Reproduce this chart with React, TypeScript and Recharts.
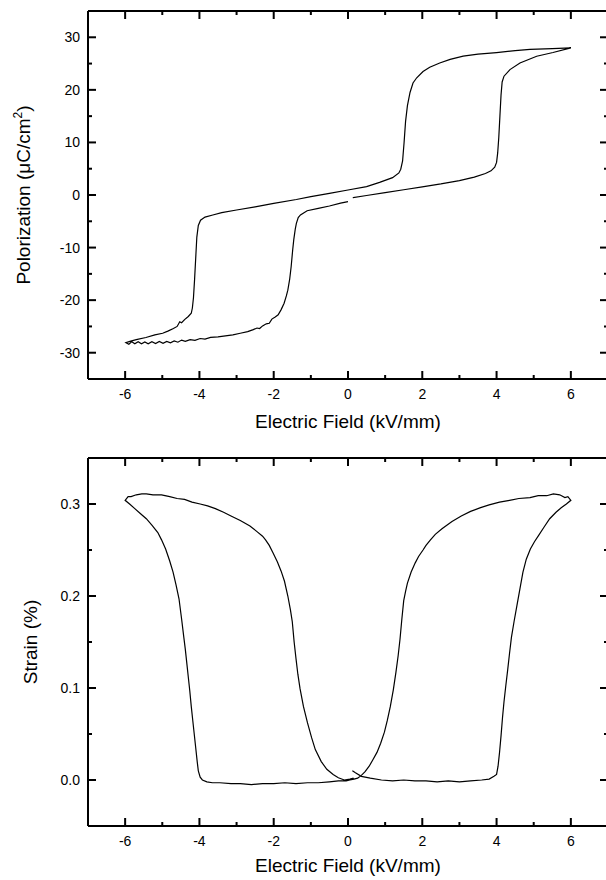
import { LineChart, Line, XAxis, YAxis, ReferenceLine } from 'recharts'

// axis ticks
const fieldTicks = [-6, -5, -4, -3, -2, -1, 0, 1, 2, 3, 4, 5, 6]
const polTicks = [-30, -25, -20, -15, -10, -5, 0, 5, 10, 15, 20, 25, 30]
const strainTicks = [0, 0.05, 0.1, 0.15, 0.2, 0.25, 0.3]

// P-E loop: [E (kV/mm), P (uC/cm2)]
const peRising: [number, number][] = [
  [0.05, -0.6], [0.5, -0.1], [1.0, 0.45], [1.5, 1.0], [2.0, 1.55], [2.5, 2.1], [3.0, 2.75],
  [3.4, 3.4], [3.7, 4.1], [3.85, 4.6], [3.95, 5.3], [4.0, 6.2], [4.03, 8.0], [4.06, 11.0],
  [4.09, 15.0], [4.12, 19.0], [4.15, 21.5], [4.2, 22.6], [4.36, 23.85], [4.63, 25.1],
  [5.08, 26.4], [5.52, 27.1], [6.0, 28.0],
]
const peFalling: [number, number][] = [
  [6.0, 28.0], [5.5, 27.85], [4.9, 27.7], [4.5, 27.45], [4.0, 27.1], [3.5, 26.8], [3.1, 26.4],
  [2.75, 25.8], [2.47, 25.1], [2.2, 24.3], [2.02, 23.5], [1.85, 22.3], [1.75, 21.3], [1.67, 19.5],
  [1.6, 17.0], [1.55, 14.0], [1.51, 10.0], [1.47, 6.5], [1.42, 4.9], [1.37, 4.2], [1.2, 3.3],
  [0.85, 2.4], [0.5, 1.6], [0.0, 0.95], [-0.5, 0.3], [-1.0, -0.3], [-1.39, -0.85], [-2.0, -1.6],
  [-2.5, -2.25], [-3.0, -2.85], [-3.4, -3.35], [-3.64, -3.8], [-3.85, -4.2], [-3.97, -4.8],
  [-4.03, -5.8], [-4.07, -8.0], [-4.1, -12.0], [-4.13, -16.0], [-4.16, -19.5], [-4.19, -21.5],
  [-4.22, -22.5], [-4.3, -23.1], [-4.4, -23.7], [-4.48, -24.3], [-4.53, -24.1], [-4.6, -25.0],
  [-4.7, -25.4], [-4.85, -25.9], [-4.99, -26.3], [-5.2, -26.6], [-5.44, -27.1], [-5.7, -27.5],
  [-5.85, -27.8], [-5.98, -28.1],
]
const peReturn: [number, number][] = [
  [-5.98, -28.1], [-5.9, -28.4], [-5.82, -27.9], [-5.74, -28.3], [-5.65, -27.9], [-5.56, -28.3],
  [-5.47, -27.95], [-5.38, -28.3], [-5.28, -27.9], [-5.18, -28.25], [-5.08, -27.85], [-4.98, -28.2],
  [-4.88, -27.85], [-4.78, -28.1], [-4.68, -27.75], [-4.58, -28.0], [-4.48, -27.6], [-4.38, -27.85],
  [-4.25, -27.5], [-4.12, -27.65], [-3.98, -27.3], [-3.85, -27.4], [-3.7, -27.1], [-3.5, -27.0],
  [-3.3, -26.8], [-3.1, -26.6], [-2.9, -26.3], [-2.7, -26.0], [-2.55, -25.6], [-2.45, -25.3],
  [-2.38, -25.4], [-2.3, -24.9], [-2.2, -24.5], [-2.12, -24.4], [-2.05, -23.6], [-1.96, -23.2],
  [-1.88, -22.8], [-1.8, -21.8], [-1.72, -20.6], [-1.66, -19.2], [-1.62, -18.1], [-1.57, -16.0],
  [-1.53, -13.6], [-1.49, -10.5], [-1.46, -8.5], [-1.42, -6.5], [-1.39, -5.4], [-1.34, -4.3],
  [-1.28, -3.8], [-1.1, -3.0], [-0.8, -2.55], [-0.5, -2.1], [-0.2, -1.55], [0.0, -1.25],
]

// strain loop: [E (kV/mm), strain (%)]
const stRising: [number, number][] = [
  [0.05, 0.012], [0.2, 0.008], [0.36, 0.004], [0.6, 0.002], [0.9, 0.0], [1.2, -0.001], [1.5, 0.0],
  [1.8, -0.001], [2.1, -0.001], [2.4, -0.002], [2.7, -0.001], [3.0, -0.002], [3.3, -0.001],
  [3.6, 0.0], [3.8, 0.001], [3.93, 0.004], [4.0, 0.006], [4.04, 0.015], [4.08, 0.03],
  [4.12, 0.048], [4.16, 0.068], [4.2, 0.085], [4.25, 0.103], [4.3, 0.12], [4.35, 0.138],
  [4.4, 0.155], [4.47, 0.172], [4.55, 0.19], [4.63, 0.208], [4.71, 0.226], [4.8, 0.24],
  [4.91, 0.251], [5.02, 0.259], [5.12, 0.265], [5.28, 0.275], [5.43, 0.284], [5.6, 0.291],
  [5.74, 0.296], [5.88, 0.3], [6.0, 0.304],
]
const stFalling: [number, number][] = [
  [6.0, 0.304], [5.92, 0.308], [5.84, 0.307], [5.7, 0.31], [5.53, 0.311], [5.35, 0.309],
  [5.12, 0.309], [4.9, 0.307], [4.6, 0.306], [4.35, 0.304], [4.08, 0.302], [3.8, 0.299],
  [3.57, 0.296], [3.3, 0.292], [3.05, 0.287], [2.8, 0.281], [2.53, 0.273], [2.35, 0.267],
  [2.22, 0.261], [2.1, 0.255], [2.02, 0.25], [1.9, 0.243], [1.81, 0.236], [1.7, 0.226],
  [1.6, 0.214], [1.55, 0.205], [1.5, 0.195], [1.45, 0.175], [1.4, 0.153], [1.35, 0.135],
  [1.29, 0.117], [1.22, 0.098], [1.14, 0.08], [1.06, 0.065], [0.98, 0.052], [0.88, 0.04],
  [0.78, 0.03], [0.67, 0.022], [0.57, 0.015], [0.46, 0.009], [0.36, 0.005], [0.26, 0.002],
  [0.16, 0.001], [0.05, 0.0], [-0.05, -0.001], [-0.26, -0.001], [-0.5, -0.002], [-0.8, -0.003],
  [-1.09, -0.003], [-1.4, -0.004], [-1.7, -0.003], [-2.0, -0.004], [-2.3, -0.004], [-2.6, -0.005],
  [-2.9, -0.004], [-3.15, -0.004], [-3.45, -0.003], [-3.65, -0.003], [-3.8, -0.002], [-3.92, 0.0],
  [-3.98, 0.003], [-4.03, 0.01], [-4.06, 0.02], [-4.1, 0.035], [-4.14, 0.05], [-4.18, 0.065],
  [-4.22, 0.08], [-4.26, 0.097], [-4.3, 0.112], [-4.34, 0.127], [-4.38, 0.142], [-4.42, 0.155],
  [-4.48, 0.175], [-4.55, 0.197], [-4.63, 0.212], [-4.71, 0.226], [-4.8, 0.238], [-4.91, 0.251],
  [-5.02, 0.261], [-5.12, 0.269], [-5.28, 0.277], [-5.43, 0.284], [-5.6, 0.29], [-5.74, 0.295],
  [-5.88, 0.3], [-6.0, 0.304],
]
const stReturn: [number, number][] = [
  [-6.0, 0.304], [-5.92, 0.308], [-5.84, 0.308], [-5.7, 0.31], [-5.55, 0.311], [-5.43, 0.311],
  [-5.25, 0.31], [-5.02, 0.31], [-4.8, 0.308], [-4.6, 0.306], [-4.4, 0.305], [-4.2, 0.302],
  [-3.98, 0.3], [-3.78, 0.298], [-3.57, 0.295], [-3.35, 0.291], [-3.15, 0.287], [-2.9, 0.282],
  [-2.64, 0.276], [-2.45, 0.27], [-2.3, 0.265], [-2.22, 0.261], [-2.12, 0.255], [-2.02, 0.247],
  [-1.9, 0.237], [-1.8, 0.227], [-1.71, 0.216], [-1.62, 0.2], [-1.55, 0.185], [-1.5, 0.172],
  [-1.45, 0.15], [-1.4, 0.132], [-1.35, 0.115], [-1.29, 0.099], [-1.2, 0.08], [-1.09, 0.062],
  [-0.98, 0.046], [-0.88, 0.033], [-0.72, 0.02], [-0.57, 0.0116], [-0.4, 0.006], [-0.26, 0.0025],
  [-0.1, 0.0], [0.05, 0.001], [0.15, 0.002],
]

const toRows = (...parts: [number, number][][]) =>
  parts.flat().map(([e, v]) => ({ e, v }))

const peData = toRows(peRising, peFalling, peReturn)
const strainData = toRows(stRising, stFalling, stReturn)

const MAJOR = 8
const MINOR = 4
const FONT = '"Liberation Sans", Arial, Helvetica, sans-serif'
const CHART_W = 612
const CHART_H = 440
const Y_AXIS_W = 88
const RIGHT = 4

// x labels only; the x frame ticks come from ReferenceLine shapes below
function XLabel({ x, y, payload }: any) {
  if (payload.value % 2 !== 0) return <g />
  return <text x={x} y={y + 16} textAnchor="middle" fontSize={14} fill="#000">{payload.value}</text>
}

// short inward stubs at both ends of a full-height reference line
function FrameTickX({ x1, y1, y2, len }: any) {
  const top = Math.min(y1, y2)
  const bottom = Math.max(y1, y2)
  return (
    <path
      d={`M${x1},${bottom}V${bottom - len}M${x1},${top}V${top + len}`}
      stroke="#000" strokeWidth={2} fill="none"
    />
  )
}

// left tick also draws its mirror on the right frame (span = plot width)
function YTick({ x, y, payload, span, isMajor, fmt }: any) {
  const major = isMajor(payload.value)
  const len = major ? MAJOR : MINOR
  return (
    <g>
      <line x1={x} x2={x + len} y1={y} y2={y} stroke="#000" strokeWidth={2} />
      <line x1={x + span} x2={x + span - len} y1={y} y2={y} stroke="#000" strokeWidth={2} />
      {major && (
        <text x={x - 8} y={y + 5} textAnchor="end" fontSize={14} fill="#000">{fmt(payload.value)}</text>
      )}
    </g>
  )
}

const axisStroke = { stroke: '#000', strokeWidth: 2 }

function LoopChart({ data, yDomain, yTicks, isMajor, fmt, top, titleOffset, xHeight }: any) {
  const plotW = CHART_W - RIGHT - Y_AXIS_W
  return (
    <LineChart width={CHART_W} height={CHART_H} margin={{ top: top - 1, right: RIGHT, bottom: 0, left: 0 }}>
      <XAxis
        xAxisId="b" type="number" dataKey="e" domain={[-7, 7]} ticks={fieldTicks} interval={0}
        orientation="bottom" height={xHeight} axisLine={axisStroke} tickLine={false}
        tickSize={0} tickMargin={4} tick={<XLabel />}
        label={{ value: 'Electric Field (kV/mm)', position: 'insideBottom', offset: titleOffset, fill: '#000', fontSize: 19 }}
      />
      <XAxis
        xAxisId="t" type="number" dataKey="e" domain={[-7, 7]} orientation="top" height={1}
        axisLine={axisStroke} tickLine={false} tick={false}
      />
      <YAxis
        yAxisId="l" type="number" domain={yDomain} ticks={yTicks} interval={0} width={Y_AXIS_W}
        orientation="left" axisLine={axisStroke} tickLine={false} tickSize={0} tickMargin={0}
        tick={<YTick span={plotW} isMajor={isMajor} fmt={fmt} />}
      />
      <YAxis
        yAxisId="r" type="number" domain={yDomain} width={0} orientation="right"
        axisLine={axisStroke} tickLine={false} tick={false}
      />
      {fieldTicks.map((v) => (
        <ReferenceLine
          key={v} xAxisId="b" yAxisId="l" x={v} stroke="#000"
          shape={(p: any) => <FrameTickX {...p} len={v % 2 === 0 ? MAJOR : MINOR} />}
        />
      ))}
      <Line
        xAxisId="b" yAxisId="l" data={data} dataKey="v" type="linear" stroke="#000"
        strokeWidth={1.2} dot={false} activeDot={false} isAnimationActive={false}
      />
      <Line
        xAxisId="t" yAxisId="r" data={data.slice(0, 1)} dataKey="v" stroke="none"
        dot={false} activeDot={false} isAnimationActive={false}
      />
    </LineChart>
  )
}

const titleStyle: any = {
  position: 'absolute', transform: 'translate(-50%, -50%) rotate(-90deg)',
  whiteSpace: 'nowrap', fontSize: 19, color: '#000', lineHeight: 1,
}

export default function App() {
  return (
    <div style={{ position: 'absolute', left: 0, top: 0, width: 606, height: 880, overflow: 'hidden', background: '#fff', fontFamily: FONT }}>
      <div style={{ position: 'absolute', left: 0, top: 0 }}>
        <LoopChart
          data={peData} yDomain={[-35, 35]} yTicks={polTicks} top={11} xHeight={61} titleOffset={12}
          isMajor={(v: number) => v % 10 === 0} fmt={(v: number) => String(v)}
        />
      </div>
      <div style={{ position: 'absolute', left: 0, top: 440 }}>
        <LoopChart
          data={strainData} yDomain={[-0.05, 0.35]} yTicks={strainTicks} top={18} xHeight={54} titleOffset={8}
          isMajor={(v: number) => Math.round(v * 100) % 10 === 0} fmt={(v: number) => v.toFixed(1)}
        />
      </div>
      <div style={{ ...titleStyle, left: 23, top: 195 }}>
        Polorization (μC/cm<sup style={{ fontSize: 12, verticalAlign: 'super', lineHeight: 0 }}>2</sup>)
      </div>
      <div style={{ ...titleStyle, left: 30, top: 642 }}>Strain (%)</div>
    </div>
  )
}
